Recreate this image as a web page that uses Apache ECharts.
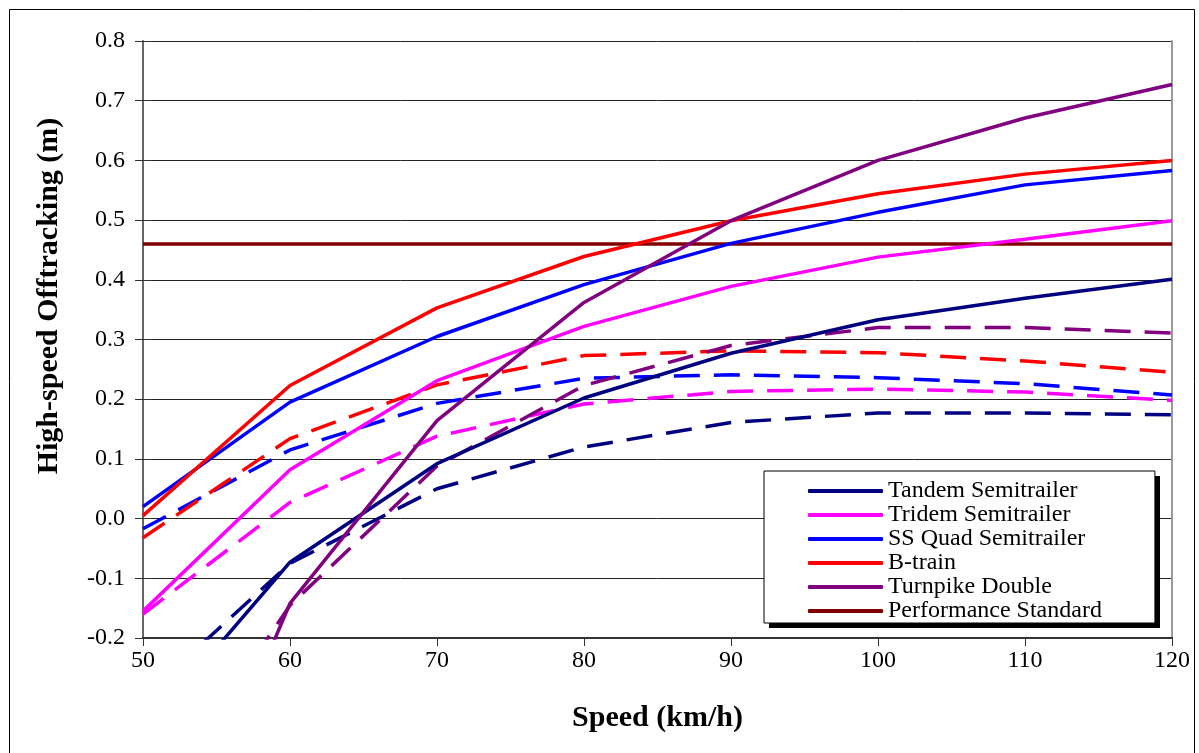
<!DOCTYPE html>
<html>
<head>
<meta charset="utf-8">
<script src="https://cdn.jsdelivr.net/npm/echarts@6/dist/echarts.min.js"></script>
<style>
  html, body { margin: 0; padding: 0; background: #fff; }
  #main { width: 1199px; height: 753px; }
</style>
</head>
<body>
<div id="main"></div>
<script>
var speeds = [50, 60, 70, 80, 90, 100, 110, 120];

// solid lines
var tandem   = [-0.36, -0.073, 0.092, 0.202, 0.277, 0.333, 0.369, 0.401];
var tridem   = [-0.155, 0.082, 0.231, 0.322, 0.389, 0.438, 0.468, 0.499];
var ssQuad   = [0.02, 0.195, 0.305, 0.392, 0.461, 0.513, 0.559, 0.583];
var bTrain   = [0.005, 0.223, 0.353, 0.439, 0.499, 0.544, 0.577, 0.6];
var turnpike = [-0.72, -0.142, 0.164, 0.362, 0.499, 0.6, 0.671, 0.727];

// dashed lines
var tandemD   = [-0.30, -0.075, 0.05, 0.12, 0.161, 0.177, 0.177, 0.174];
var tridemD   = [-0.16, 0.027, 0.138, 0.192, 0.213, 0.217, 0.212, 0.198];
var ssQuadD   = [-0.017, 0.115, 0.193, 0.235, 0.241, 0.236, 0.226, 0.207];
var bTrainD   = [-0.032, 0.134, 0.224, 0.273, 0.281, 0.278, 0.264, 0.245];
var turnpikeD = [-0.51, -0.145, 0.088, 0.223, 0.29, 0.32, 0.32, 0.311];

var standardX = [50, 120];
var standardY = [0.46, 0.46];

var names = ['Tandem Semitrailer', 'Tridem Semitrailer', 'SS Quad Semitrailer', 'B-train', 'Turnpike Double', 'Performance Standard'];

function pairs(xs, ys) {
    return xs.map(function (x, i) { return [x, ys[i]]; });
}

function mkLine(name, xs, ys, color, dashed) {
    return {
        name: name,
        type: 'line',
        data: pairs(xs, ys),
        symbol: 'none',
        clip: true,
        lineStyle: {
            color: color,
            width: 3.5,
            type: dashed ? [26, 14] : 'solid'
        },
        itemStyle: { color: color },
        emphasis: { disabled: true },
        animation: false
    };
}

var font = 'Liberation Serif';

var dom = document.getElementById('main');
var myChart = echarts.init(dom);
var option = {
    backgroundColor: '#fff',
    graphic: [{
        type: 'rect',
        left: 7, top: 7,
        shape: { width: 1185, height: 780 },
        style: { fill: 'none', stroke: '#000', lineWidth: 1 },
        z: -10
    }, {
        // legend drop shadow
        type: 'rect',
        left: 769, top: 476,
        shape: { width: 391, height: 152 },
        style: { fill: '#000' },
        z: 3
    }, {
        // y axis title (sits a bit above the plot centre, as in the source)
        type: 'text',
        x: 49,
        y: 296,
        rotation: Math.PI / 2,
        style: {
            text: 'High-speed Offtracking (m)',
            fontFamily: font,
            fontSize: 30,
            fontWeight: 'bold',
            fill: '#000',
            textAlign: 'center',
            textVerticalAlign: 'middle'
        }
    }],
    grid: {
        left: 143,
        right: 27,
        top: 41,
        bottom: 115
    },
    legend: {
        data: names,
        orient: 'vertical',
        left: 764,
        top: 471,
        width: 391,
        padding: [8, 53, 0, 44],
        icon: 'roundRect',
        itemWidth: 75,
        itemHeight: 4,
        itemGap: 0,
        backgroundColor: '#fff',
        borderColor: '#000',
        borderWidth: 1,
        borderRadius: 0,
        textStyle: { fontFamily: font, fontSize: 24, lineHeight: 23.4, color: '#000' },
        selectedMode: false,
        z: 4
    },
    xAxis: {
        type: 'value',
        min: 50,
        max: 120,
        interval: 10,
        name: 'Speed (km/h)',
        nameLocation: 'middle',
        nameGap: 65,
        nameTextStyle: { fontFamily: font, fontSize: 30, fontWeight: 'bold', color: '#000' },
        axisLine: { show: true, onZero: false, lineStyle: { color: '#333', width: 2 } },
        axisTick: { show: true, length: 8, lineStyle: { color: '#333' } },
        axisLabel: { fontFamily: font, fontSize: 24, color: '#000', margin: 11 },
        splitLine: { show: false }
    },
    yAxis: [{
        type: 'value',
        min: -0.2,
        max: 0.8,
        interval: 0.1,
        axisLine: { show: true, lineStyle: { color: '#666', width: 2 } },
        axisTick: { show: true, length: 8, lineStyle: { color: '#333' } },
        axisLabel: {
            fontFamily: font, fontSize: 24, color: '#000', margin: 18,
            formatter: function (v) { return v.toFixed(1); }
        },
        splitLine: { show: true, lineStyle: { color: '#222', width: 1 } }
    }, {
        type: 'value',
        position: 'right',
        min: -0.2,
        max: 0.8,
        interval: 0.1,
        axisLine: { show: true, lineStyle: { color: '#999', width: 2 } },
        axisTick: { show: false },
        axisLabel: { show: false },
        splitLine: { show: false }
    }, {
        // inner half of the crossing ticks on the left axis
        type: 'value',
        position: 'left',
        min: -0.2,
        max: 0.8,
        interval: 0.1,
        axisLine: { show: false },
        axisTick: { show: true, inside: true, length: 8, lineStyle: { color: '#333' } },
        axisLabel: { show: false },
        splitLine: { show: false }
    }],
    series: [
        mkLine('Performance Standard', standardX, standardY, '#800000', false),
        mkLine('Tandem Semitrailer (dashed)', speeds, tandemD, '#000080', true),
        mkLine('Tridem Semitrailer (dashed)', speeds, tridemD, '#FF00FF', true),
        mkLine('SS Quad Semitrailer (dashed)', speeds, ssQuadD, '#0000FF', true),
        mkLine('B-train (dashed)', speeds, bTrainD, '#FF0000', true),
        mkLine('Turnpike Double (dashed)', speeds, turnpikeD, '#800080', true),
        mkLine('Tandem Semitrailer', speeds, tandem, '#000080', false),
        mkLine('Tridem Semitrailer', speeds, tridem, '#FF00FF', false),
        mkLine('SS Quad Semitrailer', speeds, ssQuad, '#0000FF', false),
        mkLine('B-train', speeds, bTrain, '#FF0000', false),
        mkLine('Turnpike Double', speeds, turnpike, '#800080', false)
    ]
};
myChart.setOption(option);
</script>
</body>
</html>
